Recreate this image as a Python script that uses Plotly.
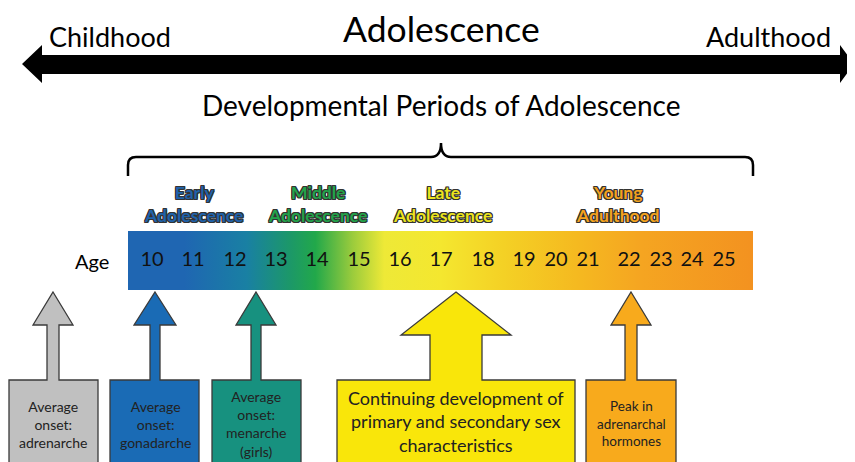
import plotly.graph_objects as go

W, H = 855, 462
PAD = 8  # default body margin of the page
FONT = "Lato"

# ---- data ----
ages = [10, 11, 12, 13, 14, 15, 16, 17, 18, 19, 20, 21, 22, 23, 24, 25]
periods = ["Early<br>Adolescence", "Middle<br>Adolescence",
           "Late<br>Adolescence", "Young<br>Adulthood"]
period_colors = ["#1f62ab", "#22a34a", "#ece41e", "#f4a21e"]
callouts = ["Average<br>onset:<br>adrenarche",
            "Average<br>onset:<br>gonadarche",
            "Average<br>onset:<br>menarche<br>(girls)",
            "Continuing development of<br>primary and secondary sex<br>characteristics",
            "Peak in<br>adrenarchal<br>hormones"]
callout_colors = ["#c0c0c0", "#1a6bb5", "#17917f", "#f9e60a", "#f8aa1c"]

# gradient of the age bar
bar_scale = [[0.0, "#1f66b2"], [0.09, "#1f66b2"], [0.19, "#1980a3"],
             [0.26, "#1c9868"], [0.30, "#22a84a"], [0.36, "#9ccc3c"],
             [0.41, "#eee937"], [0.50, "#f4e72f"], [0.60, "#f4d125"],
             [0.72, "#f5b920"], [0.82, "#f5a521"], [1.0, "#f39220"]]

# ---- layout positions (pixels) ----
age_x = [152, 193, 235, 276, 317, 359, 400, 441, 483, 524, 556, 588, 629, 661, 692, 724]
period_x = [193, 317, 442, 618]
# tip x, box left, box right, shaft half width, head half width, head base y, text y
callout_geo = [(53, 9, 98, 6, 20, 325, 424),
               (155, 110, 199, 5, 21, 325, 424),
               (256, 212, 301, 5, 20, 325, 424),
               (456, 337, 575, 26, 55, 335, 421),
               (631, 586, 676, 6, 20, 325, 423)]
callout_size = [14, 14, 14, 18, 13.5]
bar_x0, bar_x1, bar_y0, bar_y1 = 128, 753, 231, 290

fig = go.Figure()
shapes = []

# big double arrow
shapes.append(dict(type="path", fillcolor="black", line=dict(width=0),
                   path="M22,64 L42,45 L42,55 L840,55 L840,45 L854,64 L840,83 L840,74 "
                        "L42,74 L42,83 Z"))

# brace
shapes.append(dict(type="path", line=dict(color="black", width=2.5),
                   path="M128,176 L128,165 Q128,157 136,157 L431,157 Q441,157 441,143 "
                        "Q441,157 451,157 L745,157 Q753,157 753,165 L753,176"))

# gradient bar
fig.add_trace(go.Scatter(
    x=[bar_x0, bar_x1, bar_x1, bar_x0, bar_x0],
    y=[bar_y0, bar_y0, bar_y1, bar_y1, bar_y0],
    fill="toself", mode="lines", line=dict(width=0),
    fillgradient=dict(type="horizontal", colorscale=bar_scale),
    hoverinfo="skip", showlegend=False))

# age labels
fig.add_trace(go.Scatter(
    x=age_x, y=[261] * len(ages), mode="text", text=[str(a) for a in ages],
    textfont=dict(family=FONT, size=20, color="#111"), hoverinfo="skip", showlegend=False))

# callout arrows
bottom = 470
for (tx, bl, br, sw, hw, hb, ty), col in zip(callout_geo, callout_colors):
    top = 292
    boxtop = 380
    p = (f"M{tx},{top} L{tx + hw},{hb} L{tx + sw},{hb} L{tx + sw},{boxtop} "
         f"L{br},{boxtop} L{br},{bottom} L{bl},{bottom} L{bl},{boxtop} "
         f"L{tx - sw},{boxtop} L{tx - sw},{hb} L{tx - hw},{hb} Z")
    shapes.append(dict(type="path", path=p, fillcolor=col,
                       line=dict(color="#3a3a3a", width=1.3)))

for s in shapes:
    s["xref"] = "x"
    s["yref"] = "y"
    s["layer"] = "above"

annotations = []


def label(text, x, y, size, color="black", **kw):
    annotations.append(dict(text=text, x=x, y=y, xref="x", yref="y", showarrow=False,
                            font=dict(family=FONT, size=size, color=color, **kw)))


label("Childhood", 110, 36, 27)
label("Adolescence", 441, 28, 35.5)
label("Adulthood", 768, 36, 27)
label("Developmental Periods of Adolescence", 441, 105, 28)
label("Age", 92, 261, 20)

outline = ("1px 0 0 #333, -1px 0 0 #333, 0 1px 0 #333, 0 -1px 0 #333, "
           "1px 1px 0 #333, -1px -1px 0 #333, 1px -1px 0 #333, -1px 1px 0 #333")
for txt, x, col in zip(periods, period_x, period_colors):
    label(txt, x, 204, 17.5, col, weight="bold", shadow=outline)

for txt, (tx, bl, br, sw, hw, hb, ty), sz in zip(callouts, callout_geo, callout_size):
    label(txt, tx, ty, sz, "#222")

fig.update_layout(
    width=W - PAD, height=H - PAD, margin=dict(l=0, r=0, t=0, b=0),
    plot_bgcolor="white", paper_bgcolor="white",
    shapes=shapes, annotations=annotations, showlegend=False,
    xaxis=dict(range=[PAD, W], visible=False, fixedrange=True),
    yaxis=dict(range=[H, PAD], visible=False, fixedrange=True),
)

fig.write_html("out.html")
